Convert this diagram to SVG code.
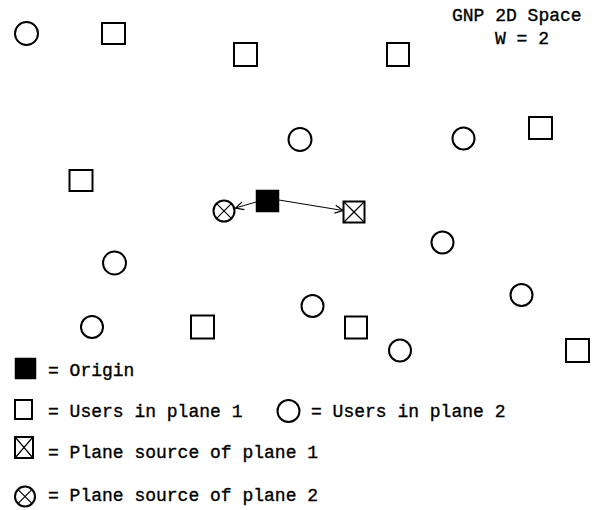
<svg xmlns="http://www.w3.org/2000/svg" width="595" height="510" viewBox="0 0 595 510">
  <defs>
    <style>
      .u { fill: none; stroke: #000; stroke-width: 2; }
      .o { fill: #000; stroke: #000; stroke-width: 1.5; }
      .x { stroke: #000; stroke-width: 1.2; fill: none; }
      .lk { stroke: #000; stroke-width: 1; fill: none; }
      text { font-family: "Liberation Mono", "DejaVu Sans Mono", monospace; font-size: 18px; fill: #000; stroke: #000; stroke-width: 0.35; }
    </style>
    <marker id="open" markerUnits="userSpaceOnUse" markerWidth="12" markerHeight="12" refX="9" refY="5" orient="auto">
      <path d="M1,1 L9,5 L1,9" fill="none" stroke="#000" stroke-width="1.2"/>
    </marker>
  </defs>

  <rect width="595" height="510" fill="#fff"/>

  <!-- title -->
  <g id="title">
    <text x="452" y="21">GNP 2D Space</text>
    <text x="495" y="44">W = 2</text>
  </g>

  <!-- users in plane 1 (squares) -->
  <g id="p1-users">
    <rect id="p1-a" class="u" x="102" y="23" width="23" height="21"/>
    <rect id="p1-b" class="u" x="234" y="43" width="23" height="23"/>
    <rect id="p1-c" class="u" x="387" y="43" width="22" height="23"/>
    <rect id="p1-d" class="u" x="529" y="117" width="23" height="22"/>
    <rect id="p1-e" class="u" x="69.5" y="170" width="23" height="21"/>
    <rect id="p1-f" class="u" x="191" y="315.5" width="23" height="23"/>
    <rect id="p1-g" class="u" x="345" y="316.5" width="22" height="22"/>
    <rect id="p1-h" class="u" x="566" y="339" width="23" height="23"/>
  </g>

  <!-- users in plane 2 (circles) -->
  <g id="p2-users">
    <circle id="p2-a" class="u" cx="26.5" cy="33.5" r="11.5"/>
    <circle id="p2-b" class="u" cx="300" cy="139.5" r="11.5"/>
    <circle id="p2-c" class="u" cx="463.5" cy="138.5" r="11"/>
    <circle id="p2-d" class="u" cx="442.5" cy="242.5" r="11"/>
    <circle id="p2-e" class="u" cx="114.5" cy="263" r="11.5"/>
    <circle id="p2-f" class="u" cx="521.5" cy="295" r="11"/>
    <circle id="p2-g" class="u" cx="312.5" cy="306" r="11"/>
    <circle id="p2-h" class="u" cx="92" cy="327" r="11"/>
    <circle id="p2-i" class="u" cx="400" cy="350.5" r="11"/>
  </g>

  <!-- origin -->
  <g id="origin">
    <rect class="o" x="256.5" y="190.5" width="22" height="21"/>
  </g>

  <!-- plane source of plane 2 -->
  <g id="src-p2">
    <circle class="u" cx="224" cy="211" r="10.5"/>
    <path class="x" d="M216.6,203.6 L231.4,218.4 M231.4,203.6 L216.6,218.4"/>
  </g>

  <!-- plane source of plane 1 -->
  <g id="src-p1">
    <rect class="u" x="343.5" y="201.5" width="21" height="21"/>
    <path class="x" d="M343.5,201.5 L364.5,222.5 M364.5,201.5 L343.5,222.5"/>
  </g>

  <!-- connectors from the origin to each plane source -->
  <g id="links">
    <line class="lk" x1="256" y1="202" x2="235.5" y2="208" marker-end="url(#open)"/>
    <line class="lk" x1="279" y1="200" x2="343" y2="210.5" marker-end="url(#open)"/>
  </g>

  <!-- legend -->
  <g id="legend">
    <rect class="o" x="15.5" y="358.5" width="20" height="20"/>
    <text x="48" y="376">= Origin</text>

    <rect class="u" x="15" y="400" width="17" height="19"/>
    <text x="48" y="417">= Users in plane 1</text>

    <circle class="u" cx="288.5" cy="411" r="11"/>
    <text x="311" y="417">= Users in plane 2</text>

    <rect class="u" x="15" y="437" width="18" height="21"/>
    <path class="x" d="M15,437 L33,458 M33,437 L15,458"/>
    <text x="48" y="458">= Plane source of plane 1</text>

    <circle class="u" cx="25" cy="496.5" r="10"/>
    <path class="x" d="M17.9,489.4 L32.1,503.6 M32.1,489.4 L17.9,503.6"/>
    <text x="48" y="501">= Plane source of plane 2</text>
  </g>
</svg>
